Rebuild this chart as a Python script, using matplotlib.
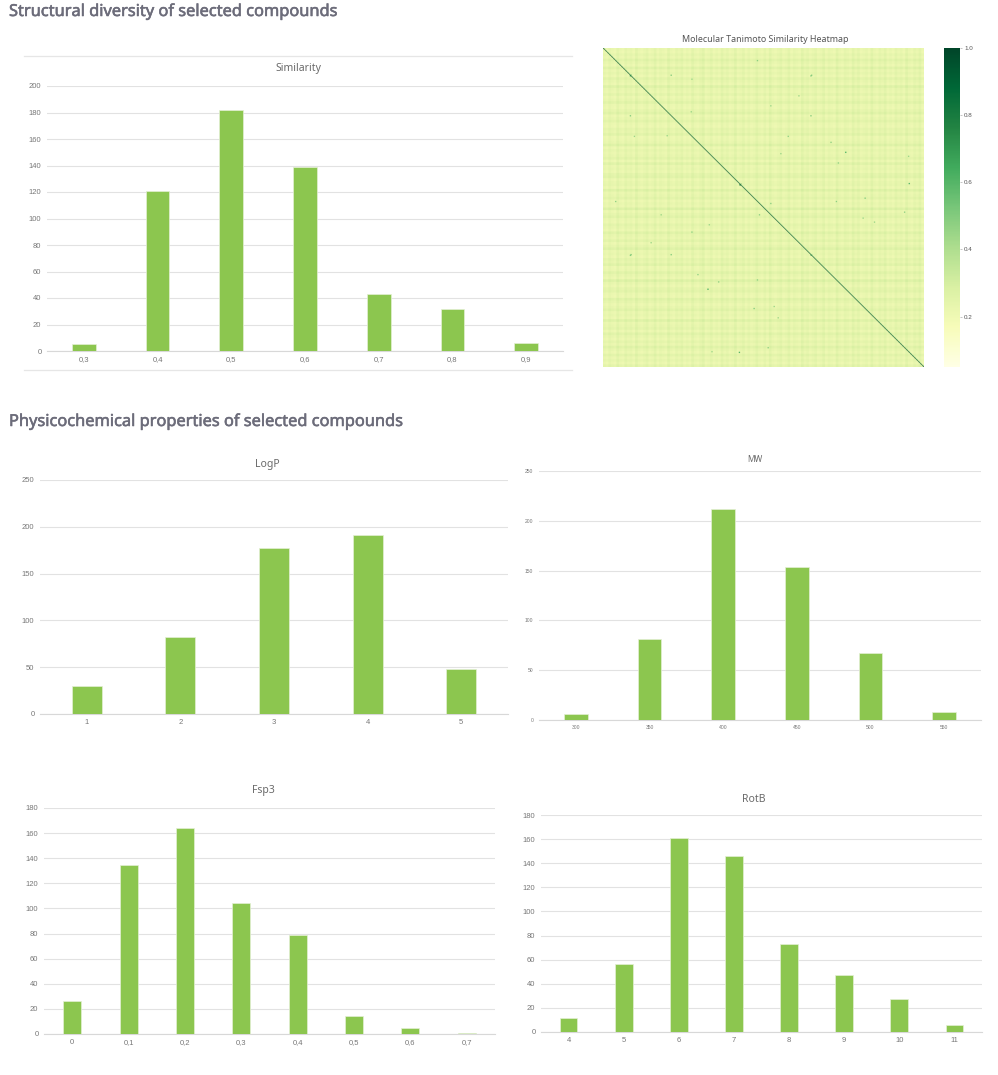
import numpy as np
import matplotlib
matplotlib.use("Agg")
import matplotlib.pyplot as plt
import matplotlib.patheffects as pe

#------ data ------
sim_labels = ["0,3", "0,4", "0,5", "0,6", "0,7", "0,8", "0,9"]
sim_values = [5, 121, 182, 139, 43, 32, 6]
logp_labels = ["1", "2", "3", "4", "5"]
logp_values = [30, 82, 177, 191, 48]
mw_labels = ["300", "350", "400", "450", "500", "550"]
mw_values = [6, 81, 212, 154, 67, 8]
fsp3_labels = ["0", "0,1", "0,2", "0,3", "0,4", "0,5", "0,6", "0,7"]
fsp3_values = [26, 135, 164, 104, 79, 14, 5, 1]
rotb_labels = ["4", "5", "6", "7", "8", "9", "10", "11"]
rotb_values = [12, 56, 161, 146, 73, 47, 27, 6]

# heatmap: 120 bands down and across (estimated tone of each), then the dark spots
row_tone = [.22, .20, .24, .21, .28, .23, .20, .29, .21, .24, .20, .27, .23, .20, .30, .23, .21, .26, .20, .23,
            .28, .21, .20, .24, .29, .20, .23, .27, .21, .20, .25, .23, .28, .20, .21, .23, .30, .20, .24, .21,
            .23, .27, .20, .29, .21, .23, .20, .26, .28, .20, .23, .24, .20, .30, .21, .23, .27, .20, .23, .21,
            .31, .20, .24, .28, .21, .20, .26, .23, .20, .29, .23, .21, .27, .20, .24, .30, .21, .23, .20, .26,
            .23, .29, .20, .21, .28, .23, .20, .31, .23, .20, .25, .27, .21, .20, .29, .24, .20, .23, .28, .21,
            .23, .20, .30, .21, .23, .26, .20, .28, .23, .20, .25, .21, .29, .23, .20, .27, .21, .24, .20, .26]
col_tone = [.24, .21, .26, .23, .21, .28, .23, .21, .27, .23, .25, .21, .29, .23, .21, .24, .27, .21, .23, .28,
            .21, .25, .23, .21, .29, .23, .21, .26, .23, .27, .21, .24, .21, .28, .23, .21, .25, .29, .21, .23,
            .27, .21, .24, .21, .28, .23, .26, .21, .23, .29, .21, .23, .27, .21, .25, .21, .23, .28, .23, .21,
            .26, .21, .29, .23, .21, .24, .27, .21, .23, .28, .21, .25, .23, .21, .29, .23, .26, .21, .24, .27,
            .21, .23, .28, .21, .25, .23, .21, .29, .23, .21, .26, .24, .21, .28, .23, .27, .21, .23, .25, .21,
            .29, .23, .21, .26, .23, .28, .21, .24, .21, .27, .23, .25, .21, .29, .23, .21, .26, .23, .28, .21]
hot_rows = [40, 40, 40, 95, 204, 310, 310, 310, 362, 457, 340, 230, 132, 250, 225, 172, 132, 265, 250, 292, 450, 230, 255, 162, 405]
hot_cols = [41, 101, 311, 131, 205, 41, 101, 311, 156, 203, 141, 18, 276, 233, 391, 351, 46, 158, 86, 71, 246, 348, 388, 456, 261]
hot_vals = [.60, .50, .50, .45, .80, .50, .50, .48, .62, .60, .48, .48, .48, .48, .50, .48, .45, .45, .45, .45, .48, .48, .45, .45, .45]

cbar_ticks = [0.2, 0.4, 0.6, 0.8, 1.0]

W, H = 998, 1075
GREEN = "#8cc64f"
GRID = "#e2e2e2"


def px_axes(fig, left, top, right, bottom):
    # axes from pixel positions in the picture
    return fig.add_axes([left / W, 1 - bottom / H, (right - left) / W, (bottom - top) / H])


def bar_panel(fig, box, labels, values, ymax, step, title, title_x, title_y, tsize=7.5, lsize=5.5):
    ax = px_axes(fig, *box)
    x = np.arange(len(values))
    ax.bar(x, values, width=0.32, color=GREEN, edgecolor="#e4f0d4", linewidth=0.5, zorder=3)
    ax.set_xlim(-0.5, len(values) - 0.5)
    ax.set_ylim(0, ymax)
    ax.set_yticks(np.arange(0, ymax + 1, step))
    ax.set_xticks(x)
    ax.set_xticklabels(labels)
    ax.grid(axis="y", color=GRID, linewidth=0.8, zorder=0)
    ax.set_axisbelow(True)
    for side in ["top", "right", "left"]:
        ax.spines[side].set_visible(False)
    ax.spines["bottom"].set_color("#d8d8d8")
    ax.spines["bottom"].set_linewidth(0.8)
    ax.tick_params(axis="x", length=0, labelsize=lsize, labelcolor="#777777", pad=3.5)
    ax.tick_params(axis="y", length=0, labelsize=lsize, labelcolor="#777777", pad=4)
    fig.text(title_x / W, 1 - title_y / H, title, ha="center", va="center",
             fontsize=tsize, color="#6a6a6a", family="Noto Sans")
    return ax


plt.rcParams["font.family"] = "Liberation Sans"
fig = plt.figure(figsize=(W / 100, H / 100), dpi=100)

# section headers, the stroke stands in for the semibold cut
for y, txt in [(12, "Structural diversity of selected compounds"),
               (422, "Physicochemical properties of selected compounds")]:
    fig.text(9 / W, 1 - y / H, txt, ha="left", va="center", fontsize=11.8, color="#6c6c7a", family="Noto Sans",
             path_effects=[pe.withStroke(linewidth=0.4, foreground="#6c6c7a")])

# frame lines round the Similarity panel
for y in [55.5, 370]:
    fig.add_artist(plt.Line2D([24 / W, 572 / W], [1 - y / H, 1 - y / H], color="#e6e6e6", linewidth=0.9))

bar_panel(fig, (47, 86, 563, 351), sim_labels, sim_values, 200, 20, "Similarity", 298, 69)
bar_panel(fig, (40, 480, 508, 714), logp_labels, logp_values, 250, 50, "LogP", 267, 464)
bar_panel(fig, (539, 471, 981, 720), mw_labels, mw_values, 250, 50, "MW", 755, 459, tsize=6, lsize=3.6)
bar_panel(fig, (44, 808, 495, 1034), fsp3_labels, fsp3_values, 180, 20, "Fsp3", 263, 791)
bar_panel(fig, (541, 815, 982, 1032), rotb_labels, rotb_values, 180, 20, "RotB", 754, 800)

# heatmap
block = 4
n = len(row_tone) * block
matrix = np.repeat(np.add.outer(row_tone, col_tone) / 2, block, axis=0).repeat(block, axis=1)
for r, c, v in zip(hot_rows, hot_cols, hot_vals):
    matrix[r:r + 2, c:c + 2] = v
    matrix[c:c + 2, r:r + 2] = v
matrix[np.arange(n - 1), np.arange(1, n)] = 0.45
matrix[np.arange(n), np.arange(n)] = 1.0

ax = px_axes(fig, 603, 48, 924, 367)
im = ax.imshow(matrix, cmap="YlGn", vmin=0.05, vmax=1.0, aspect="auto", interpolation="antialiased")
ax.set_xticks([])
ax.set_yticks([])
for s in ax.spines.values():
    s.set_visible(False)
fig.text(765 / W, 1 - 39 / H, "Molecular Tanimoto Similarity Heatmap", ha="center", va="center",
         fontsize=6.4, color="#555555", family="Noto Sans")

cax = px_axes(fig, 943.5, 48, 960, 367)
cb = fig.colorbar(im, cax=cax)
cb.set_ticks(cbar_ticks)
cb.set_ticklabels(["%.1f" % t for t in cbar_ticks])
cb.ax.tick_params(length=1.5, width=0.4, labelsize=4.5, pad=1.5, labelcolor="#555555", color="#999999")
cb.outline.set_visible(False)

fig.savefig("out.png", dpi=100)
